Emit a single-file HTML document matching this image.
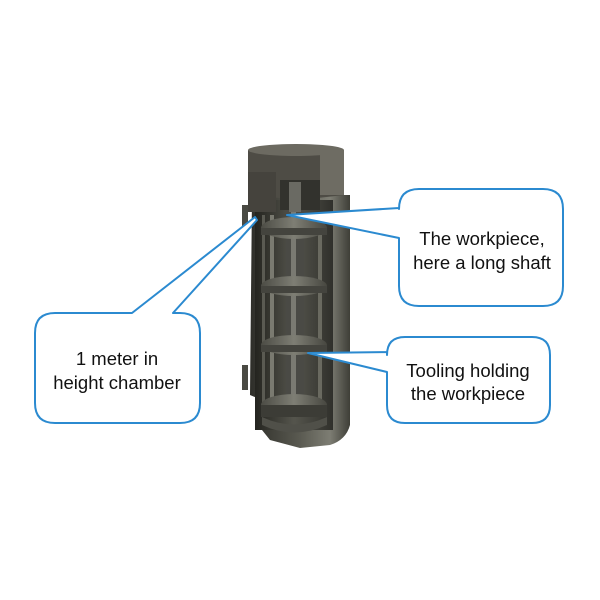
<!DOCTYPE html>
<html><head><meta charset="utf-8"><style>
html,body{margin:0;padding:0;background:#fff}
svg{display:block}
text{font-family:"Liberation Sans",sans-serif;font-size:18.5px;fill:#111}
</style></head><body>
<svg width="600" height="600" viewBox="0 0 600 600" xmlns="http://www.w3.org/2000/svg">
<defs>
<linearGradient id="body" x1="0" x2="1" y1="0" y2="0">
<stop offset="0" stop-color="#2e2e29"/><stop offset="0.5" stop-color="#5a5a51"/><stop offset="0.8" stop-color="#7d7d73"/><stop offset="1" stop-color="#3e3e37"/>
</linearGradient>
<linearGradient id="inner" x1="0" x2="1">
<stop offset="0" stop-color="#24241f"/><stop offset="0.5" stop-color="#55554d"/><stop offset="1" stop-color="#30302b"/>
</linearGradient>
<linearGradient id="ring" x1="0" x2="1">
<stop offset="0" stop-color="#4c4c45"/><stop offset="0.5" stop-color="#7e7e74"/><stop offset="1" stop-color="#474740"/>
</linearGradient>
</defs>
<g>
<path d="M252 195 L350 195 L350 425 Q346 440 330 445 L300 448 L270 440 L262 430 L262 400 L250 395 Z" fill="url(#body)"/>
<rect x="255" y="200" width="78" height="230" fill="url(#inner)"/>
<rect x="270" y="215" width="4" height="200" fill="#7a7a70"/>
<rect x="318" y="215" width="4" height="200" fill="#6a6a60"/>
<rect x="262" y="215" width="3" height="200" fill="#5a5a52"/>
<rect x="286" y="195" width="18" height="210" fill="#4a4a45"/>
<rect x="291" y="195" width="5" height="210" fill="#7a7a72"/>
<ellipse cx="294" cy="228" rx="33" ry="11" fill="url(#ring)"/>
<rect x="261" y="228" width="66" height="7" fill="#44443e"/>
<ellipse cx="294" cy="286" rx="33" ry="10" fill="url(#ring)"/>
<rect x="261" y="286" width="66" height="7" fill="#44443e"/>
<ellipse cx="294" cy="345" rx="33" ry="10" fill="url(#ring)"/>
<rect x="261" y="345" width="66" height="7" fill="#44443e"/>
<ellipse cx="294" cy="405" rx="33" ry="11" fill="url(#ring)"/>
<rect x="261" y="405" width="66" height="12" fill="#3c3c36"/>
<path d="M262 417 Q294 432 327 417 L327 425 Q294 440 262 425Z" fill="#505049"/>
<path d="M248 150 Q296 140 344 150 L344 195 L300 200 L248 195 Z" fill="#4e4c45"/>
<ellipse cx="296" cy="150" rx="48" ry="6" fill="#6c6a61"/>
<rect x="320" y="150" width="24" height="45" fill="#6e6c63"/>
<rect x="248" y="172" width="28" height="40" fill="#45433d"/>
<rect x="280" y="180" width="40" height="30" fill="#32322d"/>
<rect x="289" y="182" width="12" height="30" fill="#6a6a63"/>
<rect x="242" y="205" width="6" height="25" fill="#4a4a43"/>
<rect x="242" y="365" width="6" height="25" fill="#4a4a43"/>
</g>
<g fill="#fff" stroke="#2b8ad0" stroke-width="2" stroke-linejoin="round">
<path d="M419 189 H543 Q563 189 563 209 V286 Q563 306 543 306 H419 Q399 306 399 286 V238 L287 215 L399 208 V209 Q399 189 419 189 Z"/>
<path d="M405 337 H532 Q550 337 550 355 V405 Q550 423 532 423 H405 Q387 423 387 405 V372 L308 353 L387 352 V355 Q387 337 405 337 Z"/>
<path d="M55 313 H132 L255 217 L257 220 L173 313 H180 Q200 313 200 333 V403 Q200 423 180 423 H55 Q35 423 35 403 V333 Q35 313 55 313 Z"/>
</g>
<text x="482" y="245" text-anchor="middle">The workpiece,</text>
<text x="482" y="269" text-anchor="middle">here a long shaft</text>
<text x="468" y="377" text-anchor="middle">Tooling holding</text>
<text x="468" y="400" text-anchor="middle">the workpiece</text>
<text x="117" y="365" text-anchor="middle">1 meter in</text>
<text x="117" y="389" text-anchor="middle">height chamber</text>
</svg>
</body></html>
